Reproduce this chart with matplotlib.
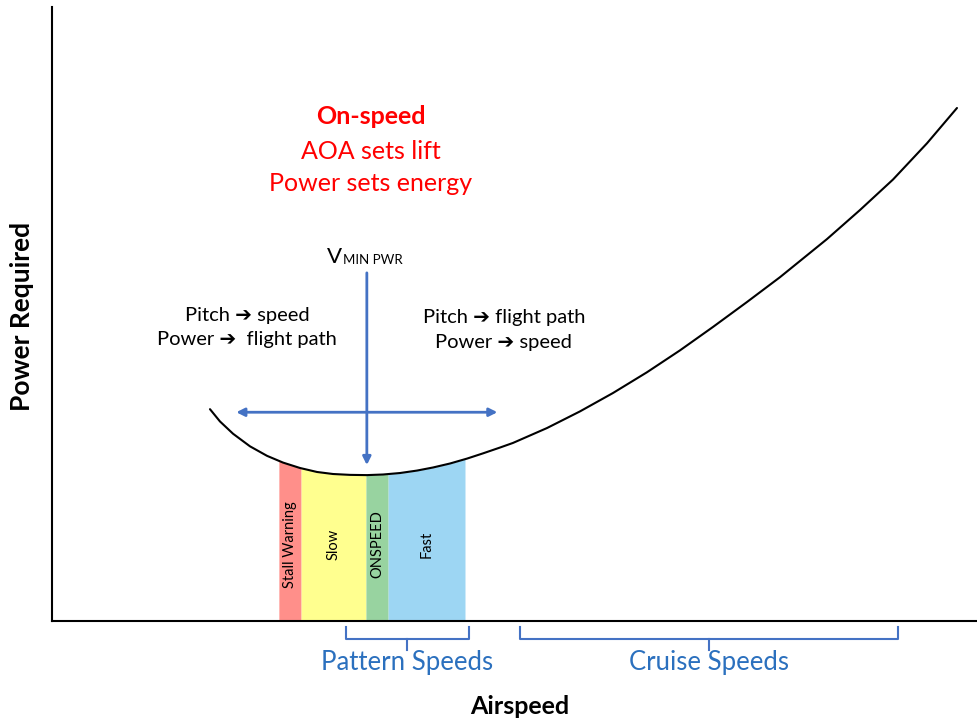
import numpy as np
import matplotlib
matplotlib.use("Agg")
import matplotlib.pyplot as plt

plt.rcParams['font.family'] = ['Lato', 'DejaVu Sans']

# Power-required curve (airspeed, power) in arbitrary 0-100 units
airspeed = [17.06, 18.14, 19.55, 21.38, 23.22, 24.95, 26.78, 28.62, 30.35, 32.18,
            34.02, 35.75, 37.58, 39.42, 41.14, 42.98, 44.82, 46.54, 48.38, 49.78,
            53.46, 57.02, 60.58, 64.25, 67.82, 71.38, 75.05, 78.62, 83.69, 87.26,
            90.82, 94.49, 97.73]
power = [34.50, 32.50, 30.50, 28.45, 26.90, 25.80, 24.92, 24.27, 23.94, 23.80,
         23.76, 23.86, 24.10, 24.50, 25.00, 25.65, 26.45, 27.30, 28.25, 29.00,
         31.43, 34.14, 37.13, 40.51, 44.08, 47.89, 51.95, 56.00, 62.20, 66.94,
         71.90, 77.80, 83.55]

# Speed bands
band_names = ["Stall Warning", "Slow", "ONSPEED", "Fast"]
band_edges = [24.5, 26.9, 33.9, 36.3, 44.6]
band_colors = ["#FF8F8A", "#FFFF8F", "#98D3A0", "#9DD6F3"]

# Speed ranges (braces)
range_names = ["Pattern Speeds", "Cruise Speeds"]
range_starts = [31.7, 50.5]
range_ends = [45.0, 91.4]

V_MIN_PWR = 34.0

fig = plt.figure(figsize=(9.78, 7.2), dpi=100)
ax = fig.add_axes([52/978, 99/720, 926/978, 614/720])
ax.set_xlim(0, 100)
ax.set_ylim(0, 100)
for s in ["top", "right"]:
    ax.spines[s].set_visible(False)
for s in ["left", "bottom"]:
    ax.spines[s].set_linewidth(1.5)
ax.set_xticks([])
ax.set_yticks([])

xs = np.array(airspeed)
ys = np.array(power)

# bands
for i, name in enumerate(band_names):
    x0, x1 = band_edges[i], band_edges[i + 1]
    inner = (xs > x0) & (xs < x1)
    bx = np.concatenate([[x0], xs[inner], [x1]])
    by = np.concatenate([[np.interp(x0, xs, ys)], ys[inner], [np.interp(x1, xs, ys)]])
    ax.fill_between(bx, 0, by, color=band_colors[i], lw=0, zorder=1)
    ax.text((x0 + x1) / 2, 12.5, name, rotation=90, ha="center", va="center",
            fontsize=10.5, color="black", zorder=3)

ax.plot(xs, ys, color="black", lw=1.5, zorder=4, solid_capstyle="round",
        solid_joinstyle="round")

blue = "#4472C4"
ax.annotate("", xy=(19.9, 34.0), xytext=(48.1, 34.0),
            arrowprops=dict(arrowstyle="<|-|>", color=blue, lw=2, mutation_scale=12,
                            shrinkA=0, shrinkB=0), zorder=5)
ax.annotate("", xy=(V_MIN_PWR, 25.4), xytext=(V_MIN_PWR, 56.7),
            arrowprops=dict(arrowstyle="-|>", color=blue, lw=2, mutation_scale=12,
                            shrinkA=0, shrinkB=0), zorder=5)

# V_MIN PWR label
ax.text(31.35, 58.3, "V", ha="right", va="baseline", fontsize=16)
ax.text(31.4, 58.1, "MIN PWR", ha="left", va="baseline", fontsize=9.5)

red = "#FF0000"
ax.text(34.4, 82.1, "On-speed", ha="center", va="center", fontsize=18, color=red, fontweight="bold")
ax.text(34.4, 76.5, "AOA sets lift", ha="center", va="center", fontsize=18, color=red)
ax.text(34.4, 71.2, "Power sets energy", ha="center", va="center", fontsize=18, color=red)

ax.text(21.1, 49.8, "Pitch \u2794 speed", ha="center", va="center", fontsize=14.5)
ax.text(21.1, 45.9, "Power \u2794  flight path", ha="center", va="center", fontsize=14.5)
ax.text(48.8, 49.5, "Pitch \u2794 flight path", ha="center", va="center", fontsize=14.5)
ax.text(48.8, 45.4, "Power \u2794 speed", ha="center", va="center", fontsize=14.5)

# braces
tblue = "#2B70BE"
for name, a, b in zip(range_names, range_starts, range_ends):
    m = (a + b) / 2
    ax.plot([a, a, b, b], [-1.0, -2.9, -2.9, -1.0], color=blue, lw=1.5, clip_on=False)
    ax.plot([m, m], [-2.9, -4.7], color=blue, lw=1.5, clip_on=False)
    ax.text(m, -6.7, name, ha="center", va="center", fontsize=18.5, color=tblue, clip_on=False)

fig.text(520/978, 1 - 706/720, "Airspeed", ha="center", va="center", fontsize=18, fontweight="bold")
fig.text(22/978, 1 - 316/720, "Power Required", ha="center", va="center", fontsize=19,
         fontweight="bold", rotation=90)

fig.savefig("out.png", dpi=100)
